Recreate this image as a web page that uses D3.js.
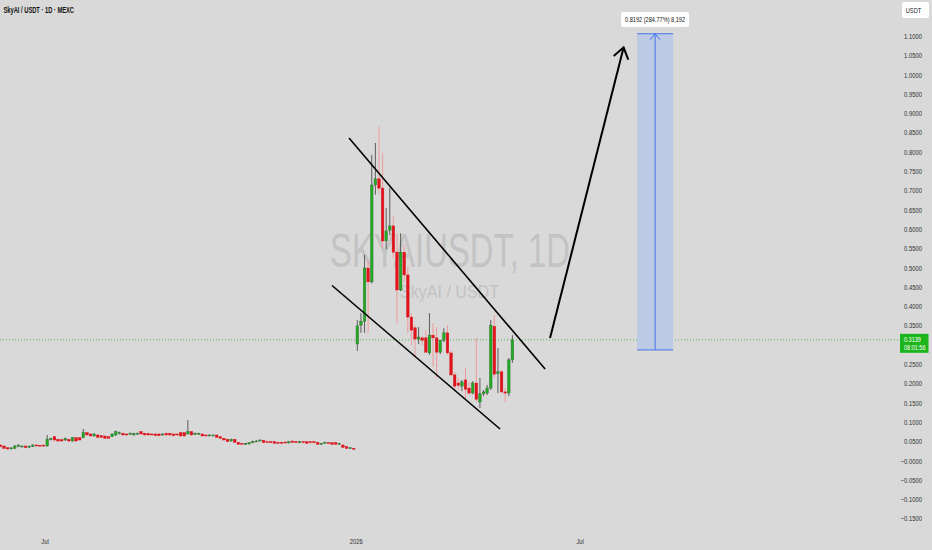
<!DOCTYPE html>
<html><head><meta charset="utf-8">
<script src="https://cdn.jsdelivr.net/npm/d3@7"></script>
<style>html,body{margin:0;padding:0;background:#d9d9d9;overflow:hidden}svg{display:block}</style>
</head><body>
<svg id="c" width="932" height="550"></svg>
<script>
// ---------- DATA ----------
// earlier, low-priced daily candles: [open, high, low, close]
const leftCandles = [
[.0415,.044,.035,.0371],[.0389,.040,.031,.0328],[.0345,.036,.030,.0311],[.0320,.036,.030,.0340],[.0328,.041,.032,.0389],
[.0380,.044,.036,.0410],[.0375,.040,.035,.0389],[.0389,.041,.033,.0345],[.0354,.040,.034,.0385],[.0375,.043,.036,.0415],
[.0415,.043,.038,.0389],[.0410,.042,.038,.0389],[.0412,.043,.038,.0389],[.0389,.0674,.0371,.0561],[.0550,.060,.053,.0580],
[.0630,.0648,.050,.0544],[.0561,.058,.050,.0518],[.0555,.057,.050,.0518],[.0544,.061,.052,.0580],[.0561,.058,.050,.0518],
[.0518,.062,.050,.0604],[.0604,.062,.050,.0518],[.0604,.062,.053,.0544],[.0604,.0829,.0587,.0734],[.0734,.076,.066,.0674],
[.070,.072,.063,.0648],[.0648,.072,.063,.070],[.0674,.069,.060,.0613],[.0656,.067,.059,.0613],[.0648,.066,.057,.0587],
[.063,.065,.057,.0587],[.063,.072,.062,.070],[.0674,.0786,.0648,.076],[.0717,.076,.069,.0734],[.0717,.074,.066,.0674],
[.070,.072,.066,.0674],[.070,.074,.068,.0717],[.0674,.073,.066,.0717],[.070,.074,.068,.0717],[.076,.078,.069,.070],
[.0717,.073,.066,.0674],[.0717,.073,.066,.0674],[.070,.072,.066,.0674],[.070,.072,.064,.0656],[.070,.071,.064,.0656],
[.0674,.072,.066,.070],[.0717,.074,.066,.0674],[.0717,.073,.066,.0674],[.070,.072,.064,.0656],[.070,.071,.066,.0674],
[.0734,.075,.063,.0648],[.0734,.075,.063,.0648],[.070,.1062,.069,.076],[.076,.078,.066,.0674],[.070,.074,.068,.0717],
[.070,.073,.068,.0717],[.070,.072,.063,.0648],[.0674,.069,.063,.0648],[.0656,.069,.064,.0674],[.0656,.068,.064,.0674],
[.0674,.069,.060,.0613],[.063,.064,.057,.0587],[.0587,.060,.053,.0544],[.0561,.058,.049,.0501],[.0518,.058,.050,.0561],
[.0561,.057,.047,.0484],[.0484,.050,.042,.0432],[.0458,.047,.042,.0432],[.0432,.047,.042,.0458],[.044,.049,.043,.0475],
[.0475,.053,.046,.0501],[.0501,.054,.049,.0518],[.0518,.056,.051,.0544],[.0535,.055,.046,.0475],[.0501,.052,.046,.0475],
[.0501,.052,.046,.0475],[.0501,.052,.044,.0458],[.0484,.050,.044,.0458],[.0484,.050,.044,.0458],[.0492,.051,.045,.0467],
[.0467,.052,.046,.0501],[.0518,.053,.047,.0484],[.0501,.052,.046,.0475],[.0475,.052,.046,.0501],[.0501,.052,.046,.0475],
[.0501,.052,.044,.0458],[.0501,.051,.046,.0475],[.0501,.052,.046,.0475],[.0484,.050,.042,.0432],[.0432,.047,.042,.0458],
[.0458,.050,.045,.0484],[.0475,.049,.044,.0458],[.0475,.049,.042,.0432],[.0475,.049,.042,.0432],[.0432,.047,.042,.0458],
[.0415,.043,.034,.0354],[.0371,.038,.031,.0328],[.0328,.036,.031,.0345],[.0328,.034,.029,.0311]
];
// SkyAI/USDT daily candles from 2026: [open, high, low, close]
const mainCandles = [
[.303,.365,.285,.350],[.352,.383,.332,.362],[.362,.534,.332,.500],[.500,.521,.332,.464],[.464,.793,.460,.715],
[.715,.824,.690,.731],[.731,.866,.694,.707],[.707,.798,.552,.570],[.570,.655,.549,.596],[.598,.707,.585,.609],
[.609,.633,.526,.541],[.541,.590,.357,.443],[.443,.590,.440,.541],[.541,.560,.464,.482],[.482,.503,.332,.373],
[.373,.383,.300,.339],[.345,.352,.270,.316],[.316,.347,.303,.321],[.319,.325,.300,.313],[.319,.339,.280,.282],
[.280,.383,.275,.326],[.326,.357,.244,.319],[.319,.347,.215,.282],[.282,.290,.277,.313],[.313,.344,.308,.332],
[.332,.352,.275,.280],[.280,.285,.220,.223],[.223,.231,.184,.194],[.202,.215,.185,.196],[.194,.210,.181,.205],
[.210,.241,.158,.186],[.189,.205,.173,.176],[.176,.207,.173,.202],[.202,.319,.153,.160],[.153,.215,.137,.174],
[.174,.184,.168,.179],[.176,.197,.171,.189],[.189,.365,.184,.352],[.349,.378,.215,.225],[.226,.293,.176,.231],
[.231,.236,.175,.179],[.179,.189,.153,.176],[.176,.267,.168,.262],[.262,.326,.254,.3139]
];
const xTickPos = [-86.6, -0.3, 61.8];
const xTickLabels = ["Jul", "2026", "Jul"];
const yTickValues = [1.1,1.05,1.0,0.95,0.9,0.85,0.8,0.75,0.7,0.65,0.6,0.55,0.5,0.45,0.4,0.35,0.3,0.25,0.2,0.15,0.1,0.05,0,-0.05,-0.1,-0.15];
const yTickLabels = ["1.1000","1.0500","1.0000","0.9500","0.9000","0.8500","0.8000","0.7500","0.7000","0.6500","0.6000","0.5500","0.5000","0.4500","0.4000","0.3500","0.3000","0.2500","0.2000","0.1500","0.1000","0.0500","\u22120.0000","\u22120.0500","\u22120.1000","\u22120.1500"];
const lastPrice = 0.3139;
const lastPriceLabel = "0.3139";
const countdown = "08:01:56";
const upperChannel = [[-2.3, 0.8368], [52.07, 0.2383]];
const lowerChannel = [[-7.02, 0.4547], [39.58, 0.0829]];
const projectionArrow = [[53.45, 0.3187], [73.84, 1.0712]];
const rangeIdx = [77.58, 87.57];
const rangePrice = [0.2877, 1.1069];
const rangeLabel = "0.8192 (284.77%) 8,192";
const titleText = "SkyAI / USDT \u00b7 1D \u00b7 MEXC";
const watermark = "SKYAIUSDT, 1D";
const watermarkSub = "SkyAI / USDT";
const currency = "USDT";

// ---------- CHART ----------
const svg = d3.select("#c");
const FONT = "'Liberation Sans', Arial, sans-serif";
svg.append("rect").attr("width", 932).attr("height", 550).attr("fill", "#d9d9d9");

const x = d3.scaleLinear().domain([-99.1, 150.5]).range([0, 900]);
const y = d3.scaleLinear().domain([0, 1.1]).range([461, 36.4]);

// watermark
svg.append("text").attr("x", 330).attr("y", 267).attr("font-family", FONT).attr("font-size", 49)
  .attr("fill", "#c3c3c3").attr("textLength", 240).attr("lengthAdjust", "spacingAndGlyphs").text(watermark);
svg.append("text").attr("x", 400).attr("y", 298).attr("font-family", FONT).attr("font-size", 18)
  .attr("fill", "#c3c3c3").attr("textLength", 99).attr("lengthAdjust", "spacingAndGlyphs").text(watermarkSub);

// title
svg.append("text").attr("x", 3.5).attr("y", 12.5).attr("font-family", FONT).attr("font-size", 8.5)
  .attr("fill", "#111").attr("font-weight", 600).attr("textLength", 70.5).attr("lengthAdjust", "spacingAndGlyphs").text(titleText);

// last price dotted line
svg.append("line").attr("x1", 0).attr("x2", 900).attr("y1", y(lastPrice)).attr("y2", y(lastPrice))
  .attr("stroke", "#35a835").attr("stroke-width", 0.8).attr("stroke-dasharray", "1,2");

// candles
const all = leftCandles.map((d, k) => ({i: k - leftCandles.length, o: d[0], h: d[1], l: d[2], c: d[3]}))
  .concat(mainCandles.map((d, k) => ({i: k, o: d[0], h: d[1], l: d[2], c: d[3]})));
const bw = 2.6;
const cg = svg.append("g");
cg.selectAll("line.w").data(all).join("line").attr("class", "w")
  .attr("x1", d => x(d.i)).attr("x2", d => x(d.i))
  .attr("y1", d => y(d.h)).attr("y2", d => y(d.l))
  .attr("stroke", d => d.c >= d.o ? "#5c5c5c" : "#ee9a9a").attr("stroke-width", 1);
cg.selectAll("rect.b").data(all).join("rect").attr("class", "b")
  .attr("x", d => x(d.i) - bw / 2).attr("width", bw)
  .attr("y", d => y(Math.max(d.o, d.c)))
  .attr("height", d => Math.max(1, Math.abs(y(d.o) - y(d.c))))
  .attr("fill", d => d.c >= d.o ? "#1fae1f" : "#e3131b")
  .attr("stroke", d => d.c >= d.o ? "#3b5f3b" : "#d01018").attr("stroke-width", 0.4);

// channel lines
const ln = d3.line().x(d => x(d[0])).y(d => y(d[1]));
[upperChannel, lowerChannel].forEach(p => {
  svg.append("path").attr("d", ln(p)).attr("fill", "none").attr("stroke", "#000").attr("stroke-width", 1.6);
});

// projection arrow
svg.append("path").attr("d", ln(projectionArrow)).attr("fill", "none").attr("stroke", "#000").attr("stroke-width", 2);
(function () {
  const [a, b] = projectionArrow;
  const tx = x(b[0]), ty = y(b[1]), fx = x(a[0]), fy = y(a[1]);
  const ang = Math.atan2(fy - ty, fx - tx);
  const L = 13, spread = 0.62;
  const p1 = [tx + L * Math.cos(ang + spread), ty + L * Math.sin(ang + spread)];
  const p2 = [tx + L * Math.cos(ang - spread), ty + L * Math.sin(ang - spread)];
  svg.append("path").attr("d", `M${p1[0]},${p1[1]}L${tx},${ty}L${p2[0]},${p2[1]}`)
    .attr("fill", "none").attr("stroke", "#000").attr("stroke-width", 2).attr("stroke-linejoin", "miter");
})();

// price range box
(function () {
  const x0 = x(rangeIdx[0]), x1 = x(rangeIdx[1]), yb = y(rangePrice[0]), yt = y(rangePrice[1]);
  const xm = (x0 + x1) / 2;
  svg.append("rect").attr("x", x0).attr("y", yt).attr("width", x1 - x0).attr("height", yb - yt)
    .attr("fill", "#bccae6");
  svg.append("line").attr("x1", x0).attr("x2", x1).attr("y1", yt).attr("y2", yt).attr("stroke", "#4677e6").attr("stroke-width", 1);
  svg.append("line").attr("x1", x0).attr("x2", x1).attr("y1", yb).attr("y2", yb).attr("stroke", "#4677e6").attr("stroke-width", 1);
  svg.append("line").attr("x1", xm).attr("x2", xm).attr("y1", yb).attr("y2", yt).attr("stroke", "#3f72e6").attr("stroke-width", 1);
  svg.append("path").attr("d", `M${xm - 5},${yt + 6}L${xm},${yt}L${xm + 5},${yt + 6}`)
    .attr("fill", "none").attr("stroke", "#3f72e6").attr("stroke-width", 1);
  svg.append("rect").attr("x", xm - 34).attr("y", 12).attr("width", 68).attr("height", 15).attr("rx", 2)
    .attr("fill", "#ffffff");
  svg.append("text").attr("x", xm - 30).attr("y", 22.3).attr("font-family", FONT).attr("font-size", 7.2)
    .attr("fill", "#111").attr("textLength", 60).attr("lengthAdjust", "spacingAndGlyphs").text(rangeLabel);
})();

// y axis labels (labels hidden behind the last-price tag are skipped, as on the original)
const yl = svg.append("g");
yTickValues.forEach((v, k) => {
  if (Math.abs(y(v) - y(lastPrice)) < 11) return;
  yl.append("g").attr("transform", `translate(922,${y(v) + 2.5})`)
    .append("text").attr("transform", "scale(0.84,1)").attr("text-anchor", "end")
    .attr("font-family", FONT).attr("font-size", 7).attr("fill", "#2e2e2e").text(yTickLabels[k]);
});

// currency box
svg.append("rect").attr("x", 902).attr("y", 2).attr("width", 27).attr("height", 16).attr("rx", 2).attr("fill", "#fff");
svg.append("g").attr("transform", "translate(913.5,12.5)").append("text").attr("transform", "scale(0.84,1)")
  .attr("text-anchor", "middle").attr("font-family", FONT).attr("font-size", 6.8).attr("fill", "#222").text(currency);

// last price label
svg.append("rect").attr("x", 900).attr("y", y(lastPrice) - 6).attr("width", 28.5).attr("height", 19).attr("fill", "#1cb51c");
svg.append("g").attr("transform", `translate(904,${y(lastPrice) + 2.4})`).append("text").attr("transform", "scale(0.84,1)")
  .attr("font-family", FONT).attr("font-size", 6.6).attr("fill", "#fff").text(lastPriceLabel);
svg.append("g").attr("transform", `translate(904,${y(lastPrice) + 10.6})`).append("text").attr("transform", "scale(0.84,1)")
  .attr("font-family", FONT).attr("font-size", 6.6).attr("fill", "#fff").text(countdown);

// x axis labels
xTickPos.forEach((p, k) => {
  svg.append("g").attr("transform", `translate(${x(p)},544)`).append("text").attr("transform", "scale(0.84,1)")
    .attr("text-anchor", "middle").attr("font-family", FONT).attr("font-size", 7).attr("fill", "#2e2e2e").text(xTickLabels[k]);
});
</script>
</body></html>
